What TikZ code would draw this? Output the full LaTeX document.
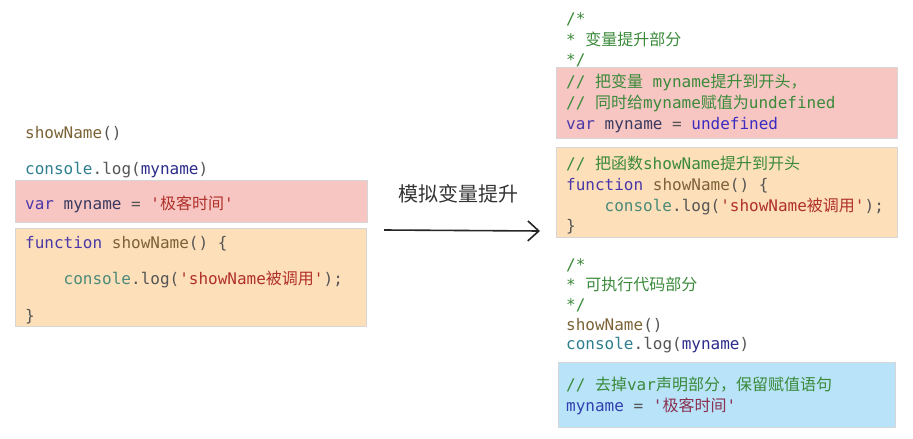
\documentclass[tikz,border=0pt]{standalone}
\usepackage{fontspec}
\setmonofont{DejaVu Sans Mono}
\newfontfamily\cjk{Noto Sans CJK SC}
\usetikzlibrary{arrows.meta}
\definecolor{kw}{HTML}{4B38A8}
\definecolor{undef}{HTML}{3B2BC0}
\definecolor{fnc}{HTML}{7B6236}
\definecolor{cons}{HTML}{2E7E8E}
\definecolor{cons2}{HTML}{4A8A78}
\definecolor{punc}{HTML}{555555}
\definecolor{var}{HTML}{2B2B8A}
\definecolor{var2}{HTML}{3A3A60}
\definecolor{var3}{HTML}{3040B0}
\definecolor{str}{HTML}{B0302A}
\definecolor{str2}{HTML}{8A3050}
\definecolor{cmt}{HTML}{3A8A3A}
\definecolor{redfill}{HTML}{F7C6C2}
\definecolor{orangefill}{HTML}{FDE0B9}
\definecolor{bluefill}{HTML}{B9E3F9}
\definecolor{boxline}{HTML}{D6D6D6}
\newcommand\cn[1]{{\cjk #1}}
\newcommand\cc[2]{\textcolor{#1}{#2}}
\begin{document}
\begin{tikzpicture}[x=1pt,y=-1pt,
  code/.style={anchor=base west,inner sep=0pt,font=\fontsize{16}{19}\ttfamily,text=punc},
  codebox/.style={draw=boxline,line width=0.8pt},
  lbl/.style={anchor=base,inner sep=0pt,font=\fontsize{20}{24}\cjk,text=black!80}]
\useasboundingbox (0,0) rectangle (913,439);
% ---------- left panel ----------
\node[codebox,fill=redfill,anchor=north west,minimum width=352pt,minimum height=42pt,inner sep=0pt] (lred) at (15,180) {};
\node[codebox,fill=orangefill,anchor=north west,minimum width=351pt,minimum height=98pt,inner sep=0pt] (lorg) at (15,228) {};
\node[code] (l1) at (25,138) {\cc{fnc}{showName}()};
\node[code] (l2) at (25,174) {\cc{cons}{console}.log(\cc{var}{myname})};
\node[code] (l3) at (25,209) {\cc{kw}{var} \cc{var2}{myname} = \cc{str}{'\cn{极客时间}'}};
\node[code] (l4) at (25,248) {\cc{kw}{function} \cc{fnc}{showName}() \{};
\node[code] (l5) at (63.5,284) {\cc{cons2}{console}.log(\cc{str}{'showName\cn{被调用}'});};
\node[code] (l6) at (25,321) {\}};
% ---------- arrow ----------
\node[lbl] (arrlbl) at (458,201) {模拟变量提升};
\coordinate (a1) at (384,230);
\coordinate (a2) at (540,231);
\draw[line width=1.6pt,black!85,-{Straight Barb[length=11pt,width=20pt,line width=1.6pt]}] (a1) -- (a2);
% ---------- right panel ----------
\node[codebox,fill=redfill,anchor=north west,minimum width=341pt,minimum height=71pt,inner sep=0pt] (rred) at (556,67) {};
\node[codebox,fill=orangefill,anchor=north west,minimum width=341pt,minimum height=90pt,inner sep=0pt] (rorg) at (556,147) {};
\node[codebox,fill=bluefill,anchor=north west,minimum width=337pt,minimum height=65pt,inner sep=0pt] (rblue) at (558,362) {};
\node[code,text=cmt] (r1) at (566,24) {/*};
\node[code,text=cmt] (r2) at (566,45) {* \cn{变量提升部分}};
\node[code,text=cmt] (r3) at (566,65) {*/};
\node[code,text=cmt] (r4) at (566,87) {// \cn{把变量} myname\cn{提升到开头，}};
\node[code,text=cmt] (r5) at (566,108) {// \cn{同时给}myname\cn{赋值为}undefined};
\node[code] (r6) at (566,129) {\cc{kw}{var} \cc{var2}{myname} = \cc{undef}{undefined}};
\node[code,text=cmt] (r7) at (566,169) {// \cn{把函数}showName\cn{提升到开头}};
\node[code] (r8) at (566,190) {\cc{kw}{function} \cc{fnc}{showName}() \{};
\node[code] (r9) at (604.5,211) {\cc{cons2}{console}.log(\cc{str}{'showName\cn{被调用}'});};
\node[code] (r10) at (566,231) {\}};
\node[code,text=cmt] (r11) at (566,270) {/*};
\node[code,text=cmt] (r12) at (566,290) {* \cn{可执行代码部分}};
\node[code,text=cmt] (r13) at (566,310) {*/};
\node[code] (r14) at (566,330) {\cc{fnc}{showName}()};
\node[code] (r15) at (566,349) {\cc{cons}{console}.log(\cc{var}{myname})};
\node[code,text=cmt] (r16) at (566,390) {// \cn{去掉}var\cn{声明部分，保留赋值语句}};
\node[code] (r17) at (566,411) {\cc{var3}{myname} = \cc{str2}{'\cn{极客时间}'}};
\end{tikzpicture}
\end{document}
